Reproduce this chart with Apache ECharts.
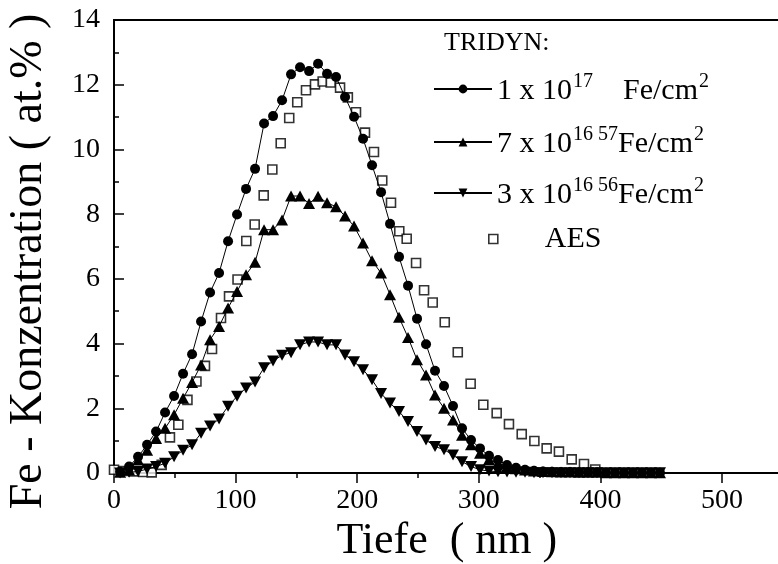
<!DOCTYPE html>
<html>
<head>
<meta charset="utf-8">
<script src="https://cdn.jsdelivr.net/npm/echarts@6/dist/echarts.min.js"></script>
<style>
  html, body { margin: 0; padding: 0; background: #fff; }
  #chart { width: 778px; height: 564px; }
</style>
</head>
<body>
<div id="chart"></div>
<script>
// TRIDYN depth grid (nm), shared by the three simulated profiles
const depth = [5, 12.4, 19.8, 27.2, 34.6, 42, 49.4, 56.8, 64.2, 71.6,
  79, 86.4, 93.8, 101.2, 108.6, 116, 123.4, 130.8, 138.2, 145.6,
  153, 160.4, 167.8, 175.2, 182.6, 190, 197.4, 204.8, 212.2, 219.6,
  227, 234.4, 241.8, 249.2, 256.6, 264, 271.4, 278.8, 286.2, 293.6,
  301, 308.4, 315.8, 323.2, 330.6, 338, 345.4, 352.8, 360.2, 367.6,
  375, 382.4, 389.8, 397.2, 404.6, 412, 419.4, 426.8, 434.2, 441.6,
  449];

// 1 x 10^17 Fe/cm^2 (at.%)
const fe17 = [0.04, 0.2, 0.5, 0.87, 1.28, 1.87, 2.38, 3.07, 3.67, 4.68,
  5.58, 6.18, 7.16, 7.99, 8.78, 9.4, 10.8, 11.03, 11.52, 12.32,
  12.54, 12.42, 12.65, 12.34, 12.24, 11.62, 11.01, 10.33, 9.51, 8.68,
  7.7, 6.68, 5.79, 4.77, 3.98, 3.16, 2.69, 2.07, 1.38, 1.02,
  0.76, 0.53, 0.4, 0.25, 0.16, 0.1, 0.07, 0.05, 0.04, 0.03,
  0.03, 0.02, 0.02, 0.02, 0.01, 0.01, 0.01, 0.01, 0.01, 0.01,
  0.01];

// 7 x 10^16 57Fe/cm^2 (at.%)
const fe57 = [0.02, 0.09, 0.4, 0.7, 1.07, 1.38, 1.8, 2.31, 2.8, 3.34,
  4.12, 4.53, 5.1, 5.61, 6.13, 6.51, 7.52, 7.52, 7.82, 8.56,
  8.56, 8.33, 8.55, 8.35, 8.23, 7.94, 7.63, 7.11, 6.56, 6.18,
  5.51, 4.81, 4.19, 3.5, 3.03, 2.41, 2.0, 1.64, 1.17, 0.87,
  0.61, 0.42, 0.3, 0.2, 0.13, 0.09, 0.06, 0.05, 0.04, 0.03,
  0.03, 0.02, 0.02, 0.02, 0.01, 0.01, 0.01, 0.01, 0.01, 0.01,
  0.01];

// 3 x 10^16 56Fe/cm^2 (at.%)
const fe56 = [0, 0.02, 0.05, 0.12, 0.2, 0.3, 0.5, 0.7, 0.87, 1.23,
  1.45, 1.67, 2.06, 2.37, 2.63, 2.81, 3.25, 3.46, 3.64, 3.72,
  3.96, 4.05, 4.05, 3.96, 3.96, 3.65, 3.44, 3.19, 2.88, 2.46,
  2.16, 1.9, 1.59, 1.28, 1.02, 0.82, 0.72, 0.56, 0.35, 0.2,
  0.1, 0.06, 0.04, 0.03, 0.02, 0.02, 0.01, 0.01, 0.01, 0.01,
  0.01, 0.01, 0.01, 0.01, 0.01, 0.01, 0.01, 0.01, 0.01, 0.01,
  0.01];

// AES measurement
const aesDepth = [0, 8, 16, 24, 31, 39.2, 46, 52.9, 60.4, 67.8,
  74.8, 80.6, 88, 94.6, 101.6, 108.8, 115.7, 123.1, 130.2, 137.1,
  144.1, 150.7, 157.9, 165.3, 171.6, 178.2, 185.9, 192.3, 199, 206.4,
  213.8, 220.6, 227.8, 234.6, 240.7, 248.4, 255, 262.1, 272, 282.7,
  293.3, 303.7, 314.7, 324.8, 335.3, 345.7, 355.8, 365.9, 376.4, 386.5,
  395.8];
const aesConc = [0.1, 0.06, 0.05, 0.03, 0.02, 0.25, 1.1, 1.49, 2.26, 2.83,
  3.31, 3.83, 4.79, 5.46, 5.98, 7.17, 7.68, 8.58, 9.38, 10.19,
  10.97, 11.46, 11.83, 12.01, 12.1, 12.07, 11.91, 11.61, 11.15, 10.52,
  9.92, 9.04, 8.35, 7.47, 7.24, 6.49, 5.65, 5.27, 4.66, 3.73,
  2.76, 2.11, 1.85, 1.51, 1.2, 0.99, 0.76, 0.66, 0.42, 0.28,
  0.11];

const xTicks = [0, 100, 200, 300, 400, 500];
const yTicks = [0, 2, 4, 6, 8, 10, 12, 14];

const FONT = 'Liberation Serif';

function pairs(xs, ys) {
  return xs.map((x, i) => [x, ys[i]]);
}

// legend label texts with superscripts
const legendText = {
  'fe17': '{m|1 x 10}{s|17}{m|    Fe/cm}{s|2}',
  'fe57': '{m|7 x 10}{s|16 57}{m|Fe/cm}{s|2}',
  'fe56': '{m|3 x 10}{s|16 56}{m|Fe/cm}{s|2}',
  'aes': '{a|AES}'
};

const richStyles = {
  m: { fontFamily: FONT, fontSize: 30, color: '#000', lineHeight: 34, verticalAlign: 'bottom' },
  s: { fontFamily: FONT, fontSize: 20, color: '#000', lineHeight: 34, verticalAlign: 'top', padding: [0, 0, 0, 1] },
  a: { fontFamily: FONT, fontSize: 30, color: '#000', lineHeight: 34, padding: [0, 0, 0, 42] }
};

function lineLegend(name, top) {
  return {
    data: [name],
    orient: 'vertical',
    left: 433,
    top: top,
    padding: 0,
    itemWidth: 58,
    itemHeight: 11,
    formatter: n => legendText[n],
    textStyle: { rich: richStyles }
  };
}

const chart = echarts.init(document.getElementById('chart'), null, { renderer: 'canvas' });

const option = {
  animation: false,
  backgroundColor: '#fff',
  textStyle: { fontFamily: FONT, color: '#000' },
  grid: {
    left: 114,
    top: 20,
    height: 453,
    width: 729.6,
    outerBoundsMode: 'none',
    containLabel: false,
    show: true,
    borderColor: '#000',
    borderWidth: 2,
    backgroundColor: 'transparent'
  },
  title: {
    text: 'TRIDYN:',
    left: 444,
    top: 30,
    padding: 0,
    textStyle: { fontFamily: FONT, fontSize: 26, fontWeight: 'normal', color: '#000' }
  },
  legend: [
    lineLegend('fe17', 72),
    lineLegend('fe57', 125),
    lineLegend('fe56', 176),
    {
      data: [{ name: 'aes', icon: 'rect', itemStyle: { color: '#fff', borderColor: '#000', borderWidth: 1.6 } }],
      left: 488,
      top: 224,
      padding: 0,
      itemWidth: 9,
      itemHeight: 9,
      formatter: n => legendText[n],
      textStyle: { rich: richStyles }
    }
  ],
  xAxis: {
    type: 'value',
    min: 0,
    max: 600,
    interval: 100,
    name: 'Tiefe  ( nm )',
    nameLocation: 'middle',
    nameGap: 46,
    nameTextStyle: { fontFamily: FONT, fontSize: 44, color: '#000', padding: [0, 64, 0, 0] },
    axisLine: { show: true, onZero: false, lineStyle: { color: '#000', width: 2 } },
    axisTick: { show: true, inside: false, length: 10, lineStyle: { color: '#000', width: 1.5 } },
    minorTick: { show: true, splitNumber: 2, length: 5, lineStyle: { color: '#000', width: 1.5 } },
    splitLine: { show: false },
    axisLabel: {
      fontFamily: FONT, fontSize: 28, color: '#000', margin: 14,
      formatter: v => (xTicks.indexOf(v) >= 0 ? String(v) : '')
    }
  },
  yAxis: {
    type: 'value',
    min: 0,
    max: 14,
    interval: 2,
    name: 'Fe - Konzentration ( at.% )',
    nameLocation: 'middle',
    nameRotate: 90,
    nameGap: 62,
    nameTextStyle: { fontFamily: FONT, fontSize: 46, color: '#000', padding: [0, 30, 0, 0] },
    axisLine: { show: true, lineStyle: { color: '#000', width: 2 } },
    axisTick: { show: true, inside: true, length: 10, lineStyle: { color: '#000', width: 1.5 } },
    minorTick: { show: true, splitNumber: 2, length: 5, lineStyle: { color: '#000', width: 1.5 } },
    splitLine: { show: false },
    axisLabel: {
      fontFamily: FONT, fontSize: 28, color: '#000', margin: 14,
      formatter: v => (yTicks.indexOf(v) >= 0 ? String(v) : '')
    }
  },
  series: [
    {
      name: 'fe17',
      type: 'line',
      data: pairs(depth, fe17),
      symbol: 'circle',
      symbolSize: 10,
      itemStyle: { color: '#000' },
      lineStyle: { color: '#000', width: 1 }
    },
    {
      name: 'fe57',
      type: 'line',
      data: pairs(depth, fe57),
      symbol: 'triangle',
      symbolSize: [12, 11],
      itemStyle: { color: '#000' },
      lineStyle: { color: '#000', width: 1 }
    },
    {
      name: 'fe56',
      type: 'line',
      data: pairs(depth, fe56),
      symbol: 'triangle',
      symbolRotate: 180,
      symbolSize: [12, 11],
      itemStyle: { color: '#000' },
      lineStyle: { color: '#000', width: 1 }
    },
    {
      name: 'aes',
      type: 'scatter',
      data: pairs(aesDepth, aesConc),
      symbol: 'rect',
      symbolSize: 9,
      itemStyle: { color: '#fff', borderColor: '#000', borderWidth: 1.6 }
    }
  ]
};

chart.setOption(option);
</script>
</body>
</html>
